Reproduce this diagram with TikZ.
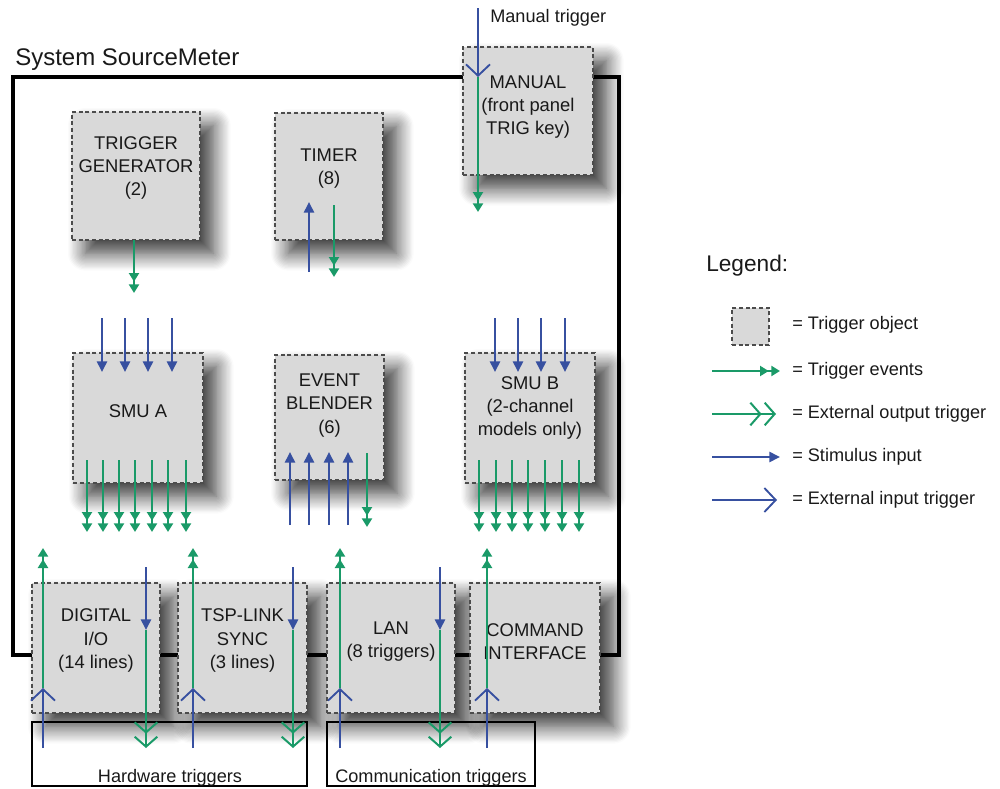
\documentclass[tikz,border=0pt]{standalone}
\usepackage{fontspec}
\setmainfont{Liberation Sans}
\usetikzlibrary{arrows.meta,fit,shadows.blur}
\definecolor{tgreen}{RGB}{26,154,104}
\definecolor{tblue}{RGB}{55,80,160}
\definecolor{objgray}{RGB}{217,217,217}
\definecolor{txt}{RGB}{25,25,25}
\tikzset{
  objbox/.style={draw=black!70, dash pattern=on 3pt off 2pt, line width=0.9pt, fill=objgray, inner sep=0pt, outer sep=0pt},
  objshadow/.style={objbox, blur shadow={shadow xshift=10pt, shadow yshift=-10pt, shadow blur radius=13pt, shadow blur steps=14, shadow opacity=80}},
  sysbox/.style={draw=black, line width=2.3pt, inner sep=0pt, outer sep=0pt},
  plainbox/.style={draw=black, line width=1.4pt, inner sep=0pt, outer sep=0pt},
  lbl/.style={align=center, font=\fontsize{13.8pt}{17.5pt}\selectfont, text=txt, inner sep=0pt},
  smalltxt/.style={font=\fontsize{13.6pt}{16pt}\selectfont, text=txt, inner sep=0pt},
  legtxt/.style={font=\fontsize{13.6pt}{16pt}\selectfont, text=txt, inner sep=0pt, anchor=west},
  tev/.style={draw=tgreen, line width=1.9pt, -{Triangle[length=6.5pt,width=7.5pt,sep=2pt]Triangle[length=6.5pt,width=7.5pt]}},
  eout/.style={draw=tgreen, line width=1.5pt, -{Straight Barb[length=7.5pt,width=17pt,sep=1.5pt]Straight Barb[length=7.5pt,width=17pt]}},
  stim/.style={draw=tblue, line width=1.9pt, -{Triangle[length=8pt,width=7.5pt]}},
  ein/.style={draw=tblue, line width=1.4pt, -{Straight Barb[length=8.5pt,width=18pt]}}
}
\begin{document}
\begin{tikzpicture}[x=0.75pt,y=-0.75pt]
\useasboundingbox (0,0) rectangle (1000,789);

% title and system box
\node[anchor=base west, font=\fontsize{18pt}{21pt}\selectfont, text=txt, inner sep=0pt] (title) at (15,65) {System SourceMeter};
\node[sysbox, fit={(13,77)(619,655)}] (sys) {};

% trigger source boxes at the bottom
\node[plainbox, fit={(32,722)(307,786)}] (hw) {};
\node[plainbox, fit={(327,722)(535,786)}] (comm) {};
\node[smalltxt, anchor=base] (hwt) at (170,782) {Hardware triggers};
\node[smalltxt, anchor=base] (commt) at (431,782) {Communication triggers};

% trigger objects
\node[objshadow, fit={(72,112)(200,240)}] (trig) {};
\node[objshadow, fit={(275,113)(383,240)}] (timer) {};
\node[objshadow, fit={(463,47)(593,175)}] (manual) {};
\node[objshadow, fit={(73,353)(203,483)}] (smua) {};
\node[objshadow, fit={(275,355)(384,480)}] (blend) {};
\node[objshadow, fit={(465,353)(595,483)}] (smub) {};
\node[objshadow, fit={(32,583)(160,713)}] (dio) {};
\node[objshadow, fit={(178,583)(307,713)}] (tsp) {};
\node[objshadow, fit={(327,583)(455,713)}] (lan) {};
\node[objshadow, fit={(470,583)(600,713)}] (cmd) {};

\node[lbl] (trigt) at ([yshift=6pt]trig.center) {TRIGGER\\GENERATOR\\(2)};
\node[lbl] (timert) at ([yshift=6pt]timer.center) {TIMER\\(8)};
\node[lbl] (manualt) at ([yshift=3pt]manual.center) {MANUAL\\(front panel\\TRIG key)};
\node[lbl] (smuat) at ([yshift=5pt]smua.center) {SMU A};
\node[lbl] (blendt) at ([yshift=9pt]blend.center) {EVENT\\BLENDER\\(6)};
\node[lbl] (smubt) at ([yshift=7.5pt]smub.center) {SMU B\\(2-channel\\models only)};
\node[lbl] (diot) at ([yshift=5.5pt]dio.center) {DIGITAL\\I/O\\(14 lines)};
\node[lbl] (tspt) at ([yshift=5.5pt]tsp.center) {TSP-LINK\\SYNC\\(3 lines)};
\node[lbl] (lant) at ([yshift=5pt]lan.center) {LAN\\(8 triggers)};
\node[lbl] (cmdt) at ([yshift=5pt]cmd.center) {COMMAND\\INTERFACE};

% manual trigger
\node[smalltxt, anchor=base west] (mant) at (490,22) {Manual trigger};
\coordinate (m-a) at (478,8);
\coordinate (m-b) at (478,77);
\coordinate (m-c) at (478,212);
\draw[tev] (m-b) -- (m-c);
\draw[ein] (m-a) -- (m-b);

% trigger generator
\coordinate (tg-a) at (134,240);
\coordinate (tg-b) at (134,293);
\draw[tev] (tg-a) -- (tg-b);

% timer
\coordinate (ti-a) at (309,272);
\coordinate (ti-b) at (309,202);
\coordinate (ti-c) at (334,205);
\coordinate (ti-d) at (334,277);
\draw[stim] (ti-a) -- (ti-b);
\draw[tev] (ti-c) -- (ti-d);

% SMU A
\foreach \x [count=\i] in {102,125,148,172} {
  \coordinate (sa-i\i) at (\x,318);
  \coordinate (sa-j\i) at (\x,372);
  \draw[stim] (sa-i\i) -- (sa-j\i);
}
\foreach \x [count=\i] in {87,103,119,135,152,168,186} {
  \coordinate (sa-o\i) at (\x,460);
  \coordinate (sa-p\i) at (\x,532);
  \draw[tev] (sa-o\i) -- (sa-p\i);
}

% event blender
\foreach \x [count=\i] in {290,309,329,348} {
  \coordinate (eb-i\i) at (\x,525);
  \coordinate (eb-j\i) at (\x,452);
  \draw[stim] (eb-i\i) -- (eb-j\i);
}
\coordinate (eb-o) at (367,453);
\coordinate (eb-p) at (367,527);
\draw[tev] (eb-o) -- (eb-p);

% SMU B
\foreach \x [count=\i] in {495,518,541,565} {
  \coordinate (sb-i\i) at (\x,318);
  \coordinate (sb-j\i) at (\x,372);
  \draw[stim] (sb-i\i) -- (sb-j\i);
}
\foreach \x [count=\i] in {479,496,512,528,545,562,579} {
  \coordinate (sb-o\i) at (\x,460);
  \coordinate (sb-p\i) at (\x,532);
  \draw[tev] (sb-o\i) -- (sb-p\i);
}

% inputs from outside (up)
\foreach \n/\x in {dio/43,tsp/193,lan/340,cmd/487} {
  \coordinate (\n-ua) at (\x,748);
  \coordinate (\n-ub) at (\x,688);
  \coordinate (\n-uc) at (\x,548);
  \draw[tev] (\n-ub) -- (\n-uc);
  \draw[ein] (\n-ua) -- (\n-ub);
}
% outputs to outside (down)
\foreach \n/\x in {dio/146,tsp/293,lan/440} {
  \coordinate (\n-da) at (\x,567);
  \coordinate (\n-db) at (\x,630);
  \coordinate (\n-dc) at (\x,748);
  \draw[eout] (\n-db) -- (\n-dc);
  \draw[stim] (\n-da) -- (\n-db);
}

% legend
\node[anchor=base west, font=\fontsize{17pt}{20pt}\selectfont, text=txt, inner sep=0pt] (legend) at (706,271) {Legend:};
\node[objbox, fit={(732,308)(769,345)}] (legobj) {};
\node[legtxt] (l1) at (792,325) {= Trigger object};
\coordinate (l2a) at (712,371);
\coordinate (l2b) at (780,371);
\draw[tev] (l2a) -- (l2b);
\node[legtxt] (l2) at (792,371) {= Trigger events};
\coordinate (l3a) at (712,414);
\coordinate (l3b) at (776,414);
\draw[eout] (l3a) -- (l3b);
\node[legtxt] (l3) at (792,414) {= External output trigger};
\coordinate (l4a) at (712,457);
\coordinate (l4b) at (780,457);
\draw[stim] (l4a) -- (l4b);
\node[legtxt] (l4) at (792,457) {= Stimulus input};
\coordinate (l5a) at (712,500);
\coordinate (l5b) at (777,500);
\draw[ein] (l5a) -- (l5b);
\node[legtxt] (l5) at (792,500) {= External input trigger};
\end{tikzpicture}
\end{document}
